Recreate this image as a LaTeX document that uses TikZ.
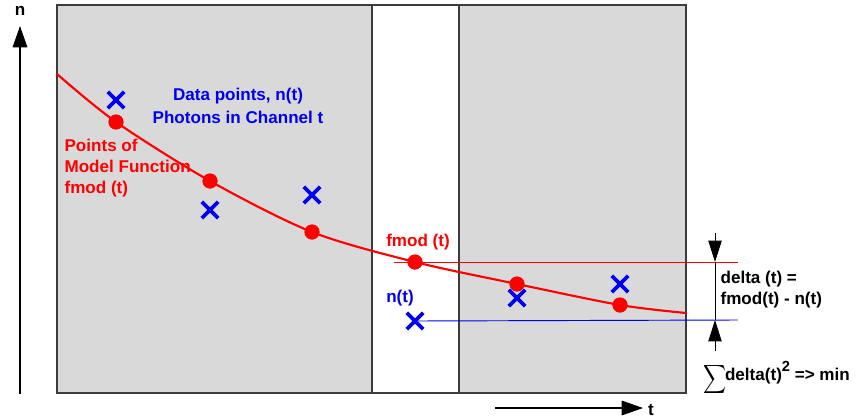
\documentclass[tikz,border=0pt]{standalone}
\usepackage{fontspec}
\setmainfont{Liberation Sans}
\usetikzlibrary{arrows.meta,shapes.misc}

\definecolor{panel}{RGB}{217,217,217}
\definecolor{frame}{RGB}{60,60,60}
\definecolor{dblue}{RGB}{0,0,240}

\tikzset{
  lbl/.style={font=\bfseries\fontsize{12.8}{15.75}\selectfont, inner sep=1pt},
  model/.style={circle, fill=red, inner sep=0pt, minimum size=11.25pt},
  datum/.style={cross out, draw=dblue, line width=2.8pt, inner sep=0pt, minimum size=9.5pt},
  bigtip/.style={-{Triangle[length=16pt,width=11pt]}},
}

\begin{document}
\begin{tikzpicture}[x=0.75pt,y=-0.75pt]
\useasboundingbox (0,0) rectangle (856,418);

% panels
\draw[frame, line width=1.1pt, fill=panel] (57,5) rectangle (686,393);
\draw[frame, line width=1.1pt, fill=white] (372,5) rectangle (459,393);

% axes
\draw (20,11) node[lbl] (nlab) {n} ;
\draw (651,410) node[lbl] (tlab) {t} ;
\coordinate (nfoot) at (20,394);
\coordinate (ntip) at (20,26);
\coordinate (tfoot) at (495,408);
\coordinate (ttip) at (643,408);
\draw[line width=0.8pt, bigtip] (nfoot) to (ntip);
\draw[line width=0.8pt, bigtip] (tfoot) to (ttip);

% model points
\coordinate (m0) at (57,74);
\draw (116,122) node[model] (m1) {} ;
\draw (210,181) node[model] (m2) {} ;
\draw (312,232) node[model] (m3) {} ;
\draw (415,262) node[model] (m4) {} ;
\draw (517,284) node[model] (m5) {} ;
\draw (620,305) node[model] (m6) {} ;
\coordinate (m7) at (686,313);

% data points
\draw (116,100) node[datum] (d1) {} ;
\draw (210,210) node[datum] (d2) {} ;
\draw (312,195) node[datum] (d3) {} ;
\draw (415,321) node[datum] (d4) {} ;
\draw (517,298) node[datum] (d5) {} ;
\draw (620,284) node[datum] (d6) {} ;

% levels
\coordinate (fend) at (738,262);
\coordinate (fstart) at (394,262);
\coordinate (nend) at (738,320);
\draw[red, line width=0.7pt] (fstart) to (fend);
\draw[dblue, line width=0.7pt] (d4.center) to (nend);

% model curve
\draw[red, line width=1.6pt] plot[smooth, tension=0.5] coordinates
  {(m0) (m1) (m2) (m3) (m4) (m5) (m6) (m7)};
\foreach \i in {1,...,6} \fill[red] (m\i) circle (5.6pt);

% delta marker
\coordinate (dtop) at (715,233);
\coordinate (dup) at (715,262);
\coordinate (dlow) at (715,320);
\coordinate (dbot) at (715,351);
\draw[line width=0.7pt, -{Triangle[length=16pt,width=10pt]}] (dtop) to (dup);
\draw[line width=0.7pt, -{Triangle[length=16pt,width=10pt]}] (dbot) to (dlow);
\draw[line width=0.7pt] (dup) to (dlow);

% labels
\draw (238,96) node[lbl, text=dblue] (dlab) {Data points, n(t)} ;
\draw (238,117) node[lbl, text=dblue] (plab) {Photons in Channel t} ;
\draw (63,168) node[lbl, text=red, anchor=west, align=left] (flab)
  {Points of\\Model Function\\fmod (t)} ;
\draw (418,242) node[lbl, text=red] (fmlab) {fmod (t)} ;
\draw (400,298) node[lbl, text=dblue] (ntlab) {n(t)} ;
\draw (703,378) node[lbl, anchor=west, inner sep=0pt] (sumlab)
  {\raisebox{-0.28em}{\scalebox{1.2}[1.5]{$\displaystyle\sum$}}\kern-1pt delta(t)\raisebox{0.55em}{\fontsize{11}{11}\selectfont 2} => min} ;
\draw (719,290) node[lbl, anchor=west, align=left] (dellab)
  {delta (t) =\\fmod(t) - n(t)} ;
\end{tikzpicture}
\end{document}
